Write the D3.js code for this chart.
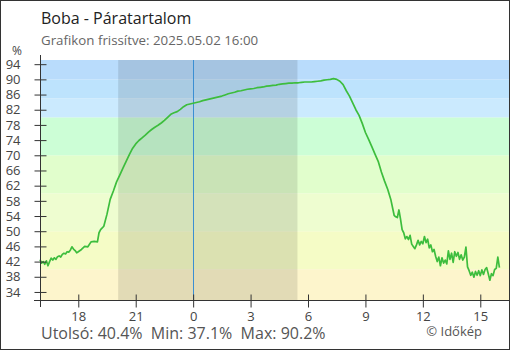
<!DOCTYPE html>
<html>
<head>
<meta charset="utf-8">
<script src="https://cdn.jsdelivr.net/npm/d3@7"></script>
<style>
  html, body { margin: 0; padding: 0; background: #fff; }
  svg { display: block; font-family: "Open Sans", "Noto Sans", sans-serif; }
</style>
</head>
<body>
<svg id="chart" width="510" height="350"></svg>
<script>
// Relative humidity (%), Boba station, 2025.05.01 16:00 – 2025.05.02 16:00
const times = [
  "16:00","16:05","16:10","16:15","16:20","16:25","16:30","16:35","16:40","16:45","16:50","16:55",
  "17:00","17:05","17:10","17:15","17:20","17:25","17:30","17:35","17:40","17:45","17:50","17:55",
  "18:00","18:10","18:20","18:30","18:40","18:50","19:00","19:05","19:10","19:20","19:30","19:40","19:50",
  "20:00","20:10","20:20","20:30","20:40","20:50","21:00","21:10","21:20","21:30","21:40","21:50",
  "22:00","22:10","22:20","22:30","22:40","22:50","23:00","23:10","23:20","23:30","23:40","23:50",
  "00:00","00:10","00:20","00:30","00:40","00:50","01:00","01:10","01:20","01:30","01:40","01:50",
  "02:00","02:10","02:20","02:30","02:40","02:50","03:00","03:10","03:20","03:30","03:40","03:50",
  "04:00","04:10","04:20","04:30","04:40","04:50","05:00","05:10","05:20","05:30","05:40","05:50",
  "06:00","06:10","06:20","06:30","06:40","06:50","07:00","07:10","07:20","07:30","07:40","07:50",
  "08:00","08:10","08:20","08:30","08:40","08:50","09:00","09:10","09:20","09:30","09:40","09:50",
  "10:00","10:10","10:20","10:30","10:35","10:40","10:45","10:50","10:55",
  "11:00","11:05","11:10","11:15","11:20","11:25","11:30","11:35","11:40","11:45","11:50","11:55",
  "12:00","12:05","12:10","12:15","12:20","12:25","12:30","12:35","12:40","12:45","12:50","12:55",
  "13:00","13:05","13:10","13:15","13:20","13:25","13:30","13:35","13:40","13:45","13:50","13:55",
  "14:00","14:05","14:10","14:15","14:20","14:25","14:30","14:35","14:40","14:45","14:50","14:55",
  "15:00","15:05","15:10","15:15","15:20","15:25","15:30","15:35","15:40","15:45","15:50","15:55",
  "16:00"
];
const humidity = [
  42.5,41.6,42.0,41.3,42.2,40.9,42.0,42.9,42.4,43.0,42.6,43.3,
  43.5,43.2,43.9,44.2,44.0,44.6,44.5,45.0,45.9,45.3,44.9,44.3,
  44.6,45.2,46.0,45.9,47.2,47.3,47.2,49.6,50.4,51.3,54.5,58.4,60.6,
  63.0,64.8,66.6,68.4,70.2,71.8,73.0,73.9,74.6,75.3,76.1,76.8,
  77.4,77.9,78.5,79.2,80.0,80.8,81.2,81.5,82.1,82.8,83.3,83.5,
  83.7,83.9,84.1,84.4,84.6,84.8,85.0,85.2,85.4,85.6,85.9,86.2,
  86.4,86.6,86.9,87.0,87.2,87.4,87.5,87.6,87.8,87.9,88.0,88.2,
  88.3,88.4,88.5,88.7,88.8,88.9,89.0,89.0,89.1,89.1,89.2,89.3,
  89.3,89.3,89.4,89.5,89.6,89.8,89.9,90.0,90.2,90.0,89.5,88.6,
  87.0,85.6,83.8,82.0,80.5,78.4,76.0,74.2,72.3,70.3,68.4,65.6,
  63.2,61.0,58.2,54.2,53.8,53.6,55.6,53.2,50.4,
  49.6,48.0,48.6,47.8,48.9,46.6,46.0,45.4,46.4,47.6,46.4,47.3,
  46.7,48.6,47.0,47.9,45.6,46.4,44.6,45.2,43.4,42.0,43.2,40.9,
  43.0,41.6,42.4,41.4,44.8,42.6,44.2,41.8,44.6,43.4,44.4,42.6,
  43.8,42.4,43.2,45.8,40.6,39.6,38.4,39.2,37.9,39.4,38.4,39.6,
  38.3,39.8,38.6,39.9,40.4,38.8,37.1,38.8,38.3,39.9,40.2,43.2,
  40.4
];

// Humidity colour bands: edges and fill for each band between them
const bandEdges = [-Infinity, 40, 50, 60, 70, 80, 85, 90, Infinity];
const bandColors = ["#fdf5cc", "#f5fcc6", "#eefdd0", "#e1fecc", "#ccfed6", "#cbeafe", "#bde3fd", "#b9dcfc"];

const yTicks = [34, 38, 42, 46, 50, 54, 58, 62, 66, 70, 74, 78, 82, 86, 90, 94];
const xTickHours = [18, 21, 0, 3, 6, 9, 12, 15];

const title = "Boba - Páratartalom";
const subtitle = "Grafikon frissítve: 2025.05.02 16:00";
const sunset = "20:05";
const sunrise = "05:27";
const stats = { last: 40.4, min: 37.1, max: 90.2 };

// ---- time parsing: consecutive HH:MM stamps, rolling over midnight
const day0 = new Date(2025, 4, 1);
function stamp(hhmm, dayOffset) {
  const [h, m] = hhmm.split(":").map(Number);
  return new Date(day0.getFullYear(), day0.getMonth(), day0.getDate() + dayOffset, h, m);
}
let dayOff = 0, prev = -1;
const data = times.map((t, i) => {
  const [h, m] = t.split(":").map(Number);
  const mins = h * 60 + m;
  if (mins < prev) dayOff += 1;
  prev = mins;
  return { date: stamp(t, dayOff), value: humidity[i] };
});

const svg = d3.select("#chart");
const W = 510, H = 350;
const plot = { left: 40, right: 509, top: 60, bottom: 300.5 };

const x = d3.scaleTime()
  .domain([stamp("16:00", 0), stamp("16:30", 1)])
  .range([plot.left, plot.right]);
const y = d3.scaleLinear()
  .domain([31.75, 95.1])
  .range([plot.bottom, plot.top]);

// background bands
const bands = bandColors.map((c, i) => ({
  lo: Math.max(bandEdges[i], y.domain()[0]),
  hi: Math.min(bandEdges[i + 1], y.domain()[1]),
  color: c
}));
svg.append("g").selectAll("rect").data(bands).join("rect")
  .attr("x", plot.left)
  .attr("width", plot.right - plot.left)
  .attr("y", d => y(d.hi))
  .attr("height", d => y(d.lo) - y(d.hi))
  .attr("fill", d => d.color);

// night shading
svg.append("rect")
  .attr("x", x(stamp(sunset, 0)))
  .attr("width", x(stamp(sunrise, 1)) - x(stamp(sunset, 0)))
  .attr("y", plot.top)
  .attr("height", plot.bottom - plot.top)
  .attr("fill", "rgba(0,0,0,0.105)");

// midnight marker
svg.append("line")
  .attr("x1", Math.round(x(stamp("00:00", 1))) + 0.5)
  .attr("x2", Math.round(x(stamp("00:00", 1))) + 0.5)
  .attr("y1", plot.top)
  .attr("y2", plot.bottom)
  .attr("stroke", "#3b8fd3")
  .attr("stroke-width", 1);

// humidity line
svg.append("path")
  .datum(data)
  .attr("fill", "none")
  .attr("stroke", "#3dbd3d")
  .attr("stroke-width", 1.7)
  .attr("stroke-linejoin", "round")
  .attr("d", d3.line().x(d => x(d.date)).y(d => y(d.value)));

// axes
const axisColor = "#333";
const yAxis = svg.append("g")
  .attr("transform", `translate(${plot.left + 0.5},0)`)
  .call(d3.axisLeft(y).tickValues(yTicks).tickSize(6).tickPadding(20).tickSizeOuter(0));
yAxis.select(".domain").remove();
yAxis.selectAll(".tick line").attr("x2", 6).attr("x1", -6).attr("stroke", axisColor);
yAxis.selectAll(".tick text")
  .attr("x", -20)
  .attr("fill", "#444")
  .style("font-size", "13px")
  .style("font-family", "'Open Sans', sans-serif");
yAxis.append("line")
  .attr("y1", 55).attr("y2", 307)
  .attr("stroke", axisColor);

const xAxis = svg.append("g")
  .attr("transform", `translate(0,${plot.bottom})`)
  .call(d3.axisBottom(x)
    .tickValues(xTickHours.map(h => stamp(String(h).padStart(2, "0") + ":00", h >= 16 ? 0 : 1)))
    .tickFormat(d => String(d.getHours()))
    .tickSizeOuter(0));
xAxis.select(".domain").remove();
xAxis.selectAll(".tick line").attr("y1", -6).attr("y2", 7).attr("stroke", axisColor);
xAxis.selectAll(".tick text")
  .attr("y", 11.5)
  .attr("fill", "#444")
  .style("font-size", "13px")
  .style("font-family", "'Open Sans', sans-serif");
xAxis.append("line")
  .attr("x1", 34).attr("x2", plot.right)
  .attr("stroke", axisColor);

// unit label
svg.append("text")
  .attr("x", 17).attr("y", 54.5)
  .attr("text-anchor", "middle")
  .attr("fill", "#444")
  .style("font-size", "12px")
  .text("%");

// titles
svg.append("text")
  .attr("x", 41).attr("y", 24)
  .attr("fill", "#222")
  .style("font-size", "16px")
  .text(title);
svg.append("text")
  .attr("x", 41).attr("y", 45)
  .attr("fill", "#666")
  .style("font-size", "13.3px")
  .text(subtitle);

// summary line
const fmt = v => v.toFixed(1) + "%";
svg.append("text")
  .attr("x", 41).attr("y", 339)
  .attr("fill", "#555")
  .style("font-size", "16px")
  .attr("xml:space", "preserve")
  .text(`Utolsó: ${fmt(stats.last)}  Min: ${fmt(stats.min)}  Max: ${fmt(stats.max)}`);
svg.append("text")
  .attr("x", 482).attr("y", 336)
  .attr("text-anchor", "end")
  .attr("fill", "#555")
  .style("font-size", "13px")
  .text("© Időkép");

// outer frame
svg.append("rect")
  .attr("x", 0.5).attr("y", 0.5)
  .attr("width", W - 1).attr("height", H - 1)
  .attr("fill", "none")
  .attr("stroke", "#333");
</script>
</body>
</html>
